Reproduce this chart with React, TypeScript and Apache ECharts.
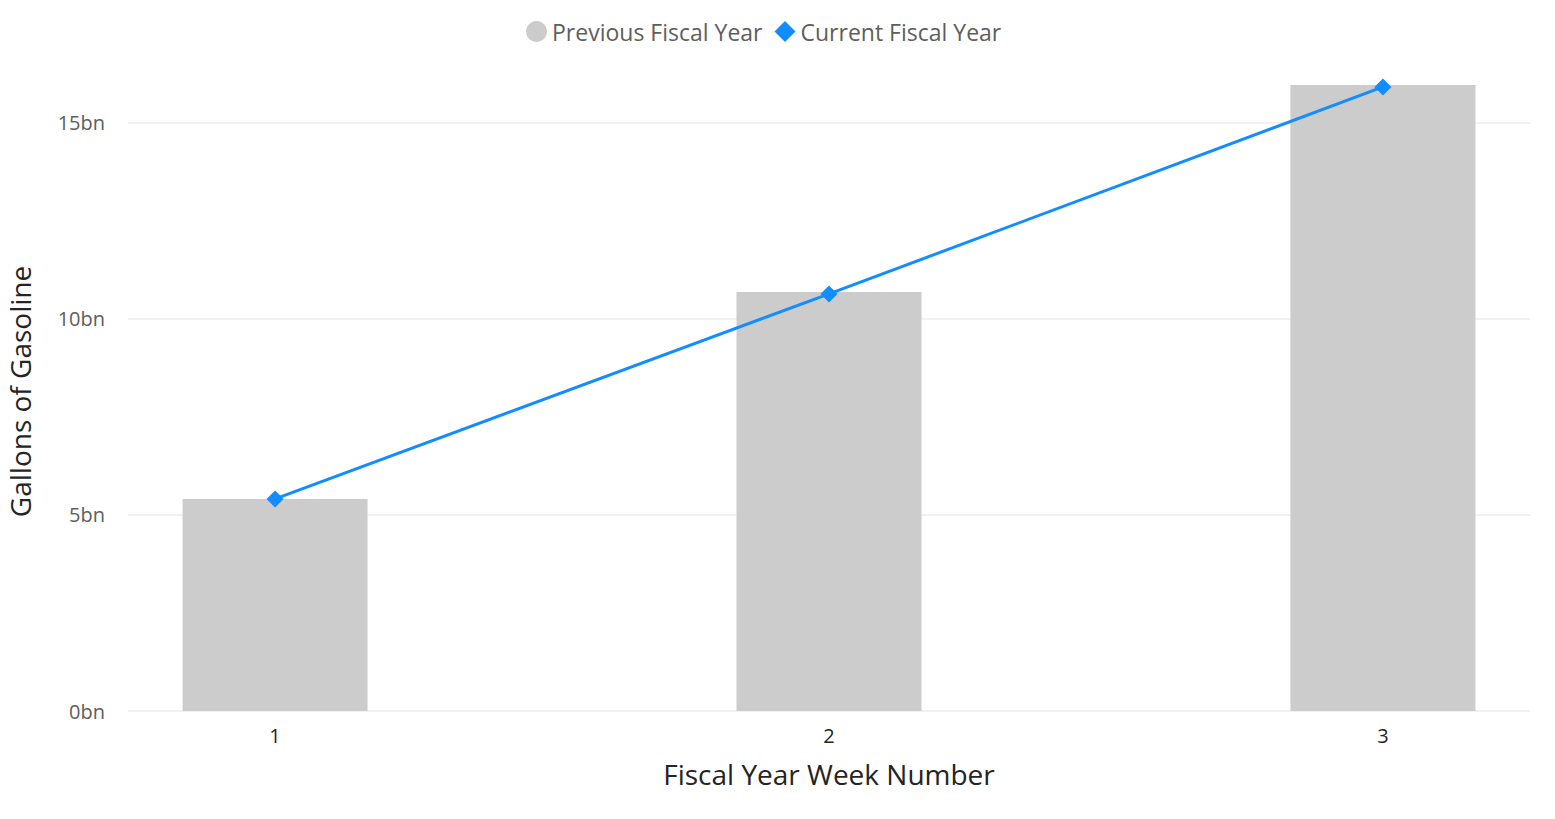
import React, { useEffect, useRef } from "react";
import * as echarts from "echarts";

const weeks = [1, 2, 3];
const previousFY = [5.41, 10.69, 15.97];
const currentFY = [5.41, 10.64, 15.92];
const yTicks = [0, 5, 10, 15];

const FONT = "'Open Sans', 'Noto Sans', sans-serif";

export default function App() {
  const ref = useRef<HTMLDivElement>(null);
  useEffect(() => {
    document.body.style.margin = "0";
    if (!ref.current) return;
    const chart = echarts.init(ref.current, undefined, { renderer: "svg" });
    chart.setOption({
      animation: false,
      textStyle: { fontFamily: FONT },
      legend: {
        top: 15,
        left: 521,
        itemWidth: 21,
        itemHeight: 21,
        itemGap: 12,
        textStyle: { fontSize: 23, color: "#605E5C", fontFamily: FONT },
        data: [
          { name: "Previous Fiscal Year", icon: "circle" },
          { name: "Current Fiscal Year", icon: "diamond" },
        ],
      },
      grid: {
        left: 128,
        right: 25,
        top: 72,
        bottom: 108,
        containLabel: false,
        outerBoundsMode: "none",
      },
      xAxis: {
        type: "value",
        min: 0.7345,
        max: 3.2655,
        name: "Fiscal Year Week Number",
        nameLocation: "middle",
        nameGap: 49,
        nameTextStyle: { fontSize: 28, color: "#252423", fontFamily: FONT },
        axisLine: { show: false },
        axisTick: { show: false, customValues: weeks },
        splitLine: { show: false },
        axisLabel: {
          customValues: weeks,
          fontSize: 20,
          color: "#252423",
          margin: 14,
          fontFamily: FONT,
        },
      },
      yAxis: {
        type: "value",
        min: 0,
        max: 16.3,
        name: "Gallons of Gasoline",
        nameLocation: "middle",
        nameGap: 94,
        nameTextStyle: { fontSize: 28, color: "#252423", fontFamily: FONT },
        axisLine: { show: false },
        axisTick: { show: false, customValues: yTicks },
        axisLabel: {
          customValues: yTicks,
          formatter: (v: number) => `${v}bn`,
          fontSize: 20,
          color: "#605E5C",
          margin: 23,
          fontFamily: FONT,
        },
        splitLine: { show: true, lineStyle: { color: "#EDEDED", width: 1.5 } },
      },
      series: [
        {
          name: "Previous Fiscal Year",
          type: "bar",
          barWidth: 185,
          itemStyle: { color: "#CCCCCC" },
          data: weeks.map((w, i) => [w, previousFY[i]]),
        },
        {
          name: "Current Fiscal Year",
          type: "line",
          symbol: "diamond",
          symbolSize: 17,
          lineStyle: { color: "#118DFF", width: 3 },
          itemStyle: { color: "#118DFF" },
          data: weeks.map((w, i) => [w, currentFY[i]]),
        },
      ],
    });
    return () => chart.dispose();
  }, []);
  return <div ref={ref} style={{ width: 1555, height: 819 }} />;
}
